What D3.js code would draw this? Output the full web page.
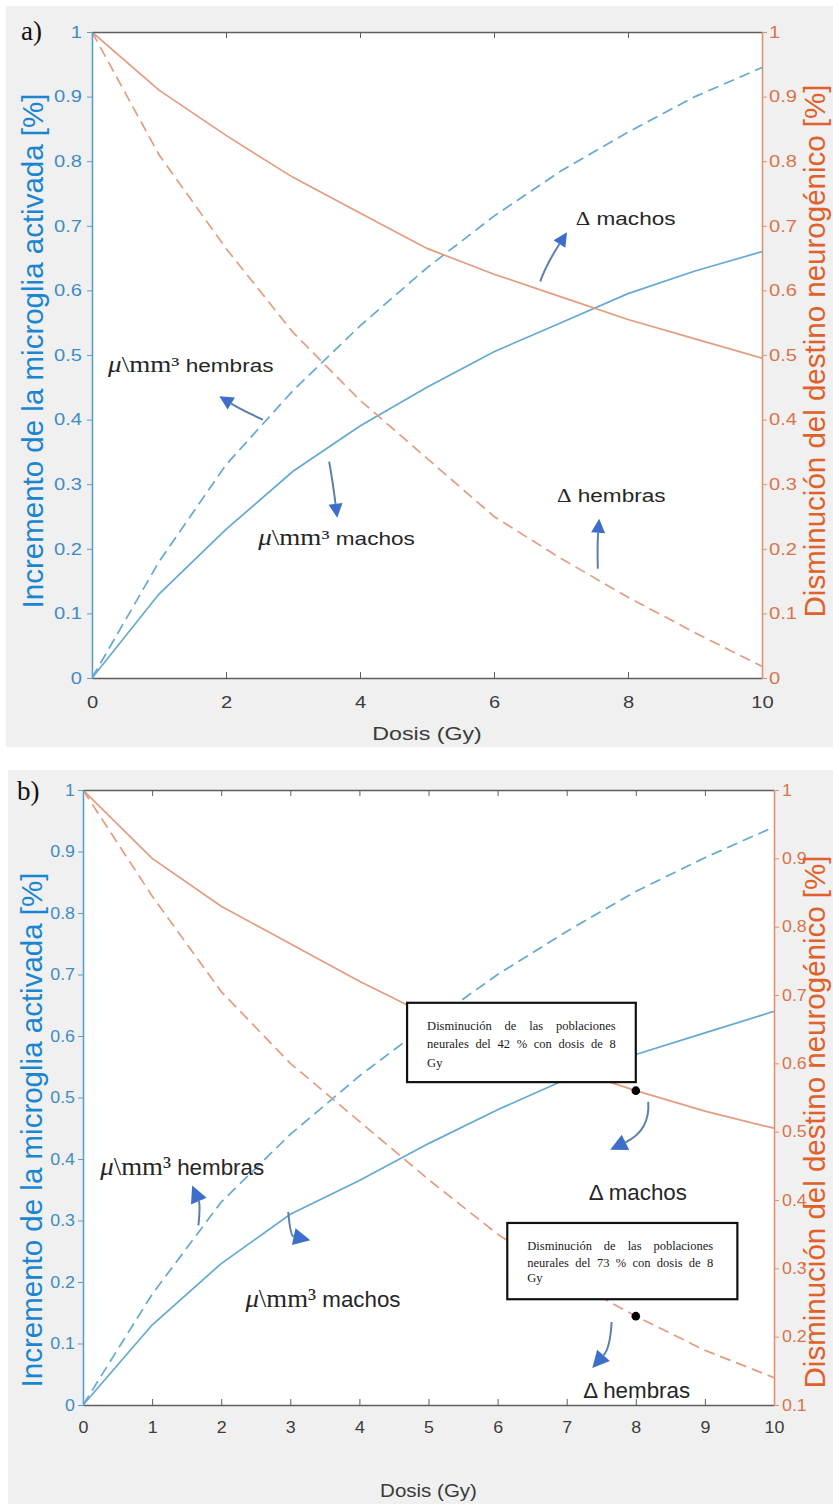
<!DOCTYPE html>
<html>
<head>
<meta charset="utf-8">
<script src="https://cdn.jsdelivr.net/npm/d3@7"></script>
<style>
  body { margin: 0; background: #fff; }
  svg { display: block; }
</style>
</head>
<body>
<script>
// ---- data ----
const dose = [0, 1, 2, 3, 4, 5, 6, 7, 8, 9, 10];

// panel a
const aMicroMachos  = [0, 0.13, 0.23, 0.32, 0.39, 0.45, 0.505, 0.55, 0.595, 0.63, 0.66];
const aMicroHembras = [0, 0.18, 0.33, 0.445, 0.545, 0.635, 0.715, 0.785, 0.845, 0.9, 0.945];
const aDeltaMachos  = [1, 0.91, 0.84, 0.775, 0.72, 0.665, 0.625, 0.59, 0.555, 0.525, 0.495];
const aDeltaHembras = [1, 0.81, 0.665, 0.535, 0.43, 0.34, 0.25, 0.185, 0.125, 0.07, 0.018];

// panel b
const bMicroMachos  = [0, 0.13, 0.23, 0.31, 0.365, 0.425, 0.48, 0.53, 0.57, 0.605, 0.64];
const bMicroHembras = [0, 0.18, 0.33, 0.44, 0.535, 0.62, 0.7, 0.77, 0.835, 0.89, 0.94];
const bDeltaMachos  = [1, 0.9, 0.83, 0.775, 0.72, 0.67, 0.63, 0.593, 0.56, 0.53, 0.505];
const bDeltaHembras = [1, 0.845, 0.705, 0.6, 0.515, 0.43, 0.35, 0.285, 0.23, 0.18, 0.14];

// ticks
const ticksXa = [0, 2, 4, 6, 8, 10];
const ticksXb = [0, 1, 2, 3, 4, 5, 6, 7, 8, 9, 10];
const ticksLeft = [0, 0.1, 0.2, 0.3, 0.4, 0.5, 0.6, 0.7, 0.8, 0.9, 1];
const ticksRightA = [0, 0.1, 0.2, 0.3, 0.4, 0.5, 0.6, 0.7, 0.8, 0.9, 1];
const ticksRightB = [0.1, 0.2, 0.3, 0.4, 0.5, 0.6, 0.7, 0.8, 0.9, 1];

const xLabel = "Dosis (Gy)";
const leftLabel = "Incremento de la microglia activada [%]";
const rightLabel = "Disminución del destino neurogénico [%]";

// annotations, in data units (x = Gy, y = left axis)
const aNotes = [
  { x: 7.22, y: 0.702, kind: "delta", t: " machos" },
  { x: 6.94, y: 0.273, kind: "delta", t: " hembras" },
  { x: 0.24, y: 0.473, kind: "mu", t: " hembras" },
  { x: 2.48, y: 0.206, kind: "mu", t: " machos" }
];
const aArrows = [
  [6.69, 0.614, 6.78, 0.640, 7.09, 0.690],
  [7.55, 0.169, 7.54, 0.205, 7.57, 0.2465],
  [2.55, 0.400, 2.25, 0.414, 1.90, 0.436],
  [3.54, 0.335, 3.60, 0.299, 3.66, 0.248]
];
const bNotes = [
  { x: 0.25, y: 0.374, kind: "mu", t: " hembras" },
  { x: 2.35, y: 0.159, kind: "mu", t: " machos" },
  { x: 7.32, y: 0.333, kind: "sans", t: "Δ machos" },
  { x: 7.24, y: 0.011, kind: "sans", t: "Δ hembras" }
];
const bArrows = [
  [1.67, 0.292, 1.70, 0.325, 1.58, 0.357],
  [2.97, 0.314, 3.00, 0.275, 3.29, 0.268],
  [8.18, 0.493, 8.21, 0.447, 7.63, 0.415],
  [7.65, 0.135, 7.63, 0.093, 7.37, 0.060]
];
const boxLines42 = ["Disminución de las poblaciones", "neurales del 42 % con dosis de 8", "Gy"];
const boxLines73 = ["Disminución de las poblaciones", "neurales del 73 % con dosis de 8", "Gy"];
const bBoxes = [
  { x0: 4.69, x1: 8.0, yTop: 0.654, yBot: 0.525, tx0: 4.98, tx1: 7.71, base: [0.61, 0.58, 0.55], lines: boxLines42 },
  { x0: 6.14, x1: 9.47, yTop: 0.296, yBot: 0.172, tx0: 6.43, tx1: 9.12, base: [0.252, 0.224, 0.2], lines: boxLines73 }
];
const markDose = 8;

// ---- style ----
const sans = "'Liberation Sans', Arial, Helvetica, sans-serif";
const serif = "'Liberation Serif', 'Times New Roman', serif";
const blueLine = "#63a9d2", orangeLine = "#e49c80";
const frameGray = "#5e5e5e";

const svg = d3.select("body").append("svg")
  .attr("width", 833)
  .attr("height", 1504);

svg.append("rect").attr("x", 6).attr("y", 6).attr("width", 827).attr("height", 741).attr("fill", "#f0f0f0");
svg.append("rect").attr("x", 8).attr("y", 770).attr("width", 825).attr("height", 734).attr("fill", "#f0f0f0");

function drawPanel(p) {
  const g = svg.append("g");
  const x = d3.scaleLinear().domain([0, 10]).range([p.left, p.right]);
  const yL = d3.scaleLinear().domain([0, 1]).range([p.bottom, p.top]);
  const yR = d3.scaleLinear().domain(p.rightDomain).range([p.bottom, p.top]);

  g.append("rect")
    .attr("x", p.left).attr("y", p.top)
    .attr("width", p.right - p.left).attr("height", p.bottom - p.top)
    .attr("fill", "#fff");

  g.append("clipPath").attr("id", "clip-" + p.id)
    .append("rect")
    .attr("x", p.left).attr("y", p.top)
    .attr("width", p.right - p.left).attr("height", p.bottom - p.top);

  const series = [
    { v: p.microMachos, y: yL, c: blueLine, dash: null },
    { v: p.microHembras, y: yL, c: blueLine, dash: "11,6" },
    { v: p.deltaMachos, y: yR, c: orangeLine, dash: null },
    { v: p.deltaHembras, y: yR, c: orangeLine, dash: "11,6" }
  ];
  const lines = g.append("g").attr("clip-path", "url(#clip-" + p.id + ")");
  series.forEach(function(s) {
    const line = d3.line()
      .x(function(d, i) { return x(dose[i]); })
      .y(function(d) { return s.y(d); });
    lines.append("path")
      .attr("d", line(s.v))
      .attr("fill", "none")
      .attr("stroke", s.c)
      .attr("stroke-width", 1.7)
      .attr("stroke-dasharray", s.dash);
  });

  // axes
  const bottom = g.append("g")
    .attr("transform", "translate(0," + p.bottom + ")")
    .call(d3.axisBottom(x).tickValues(p.xTicks).tickSize(-6).tickSizeOuter(0).tickFormat(d3.format("d")));
  bottom.select(".domain").attr("stroke", frameGray).attr("stroke-width", 1.6);
  bottom.selectAll(".tick line").attr("stroke", frameGray);
  bottom.selectAll(".tick text")
    .attr("y", p.xTickOff).attr("dy", null)
    .attr("transform", "scale(" + p.ts + ",1)")
    .attr("fill", "#3c3c3c")
    .style("font-family", sans).style("font-size", p.tickFont + "px");

  const top = g.append("g")
    .attr("transform", "translate(0," + p.top + ")")
    .call(d3.axisTop(x).tickValues(p.xTicks.slice(1, -1)).tickSize(-6).tickSizeOuter(0).tickFormat(""));
  top.select(".domain").attr("stroke", frameGray).attr("stroke-width", 1.6);
  top.selectAll(".tick line").attr("stroke", frameGray);

  const left = g.append("g")
    .attr("transform", "translate(" + p.left + ",0)")
    .call(d3.axisLeft(yL).tickValues(ticksLeft).tickSize(5).tickSizeOuter(0).tickFormat(d3.format("~g")));
  left.select(".domain").attr("stroke", "#5a9fcf").attr("stroke-width", 1.6);
  left.selectAll(".tick line").attr("stroke", "#5a9fcf");
  left.selectAll(".tick text")
    .attr("x", -p.yGap / p.ts)
    .attr("transform", "scale(" + p.ts + ",1)")
    .attr("fill", "#3f8cc4")
    .style("font-family", sans).style("font-size", p.tickFont + "px");

  const right = g.append("g")
    .attr("transform", "translate(" + p.right + ",0)")
    .call(d3.axisRight(yR).tickValues(p.rightTicks).tickSize(5).tickSizeOuter(0).tickFormat(d3.format("~g")));
  right.select(".domain").attr("stroke", "#e29274").attr("stroke-width", 1.6);
  right.selectAll(".tick line").attr("stroke", "#e29274");
  right.selectAll(".tick text")
    .attr("x", p.yGapR / p.ts)
    .attr("transform", "scale(" + p.ts + ",1)")
    .attr("fill", "#d9744c")
    .style("font-family", sans).style("font-size", p.tickFont + "px");

  // axis titles
  g.append("text")
    .attr("transform", "translate(" + ((p.left + p.right) / 2) + "," + p.xLabelY + ") scale(" + p.ts + ",1)")
    .attr("text-anchor", "middle")
    .attr("fill", "#3a3a3a")
    .style("font-family", sans).style("font-size", p.xLabelFont + "px")
    .text(xLabel);

  g.append("text")
    .attr("transform", "translate(" + p.leftLabelX + "," + p.leftLabelY + ") rotate(-90)")
    .attr("text-anchor", "middle")
    .attr("fill", "#1a86d0")
    .style("font-family", sans).style("font-size", "29.5px")
    .text(leftLabel);

  g.append("text")
    .attr("transform", "translate(" + p.rightLabelX + "," + p.rightLabelY + ") rotate(-90)")
    .attr("text-anchor", "middle")
    .attr("fill", "#e0612a")
    .style("font-family", sans).style("font-size", "29.5px")
    .text(rightLabel);

  g.append("text")
    .attr("x", p.tagX).attr("y", p.tagY)
    .attr("fill", "#111")
    .style("font-family", serif).style("font-size", "27px")
    .text(p.tag);

  // boxes with justified text, dots on the orange curves
  p.boxes.forEach(function(b) {
    g.append("rect")
      .attr("x", x(b.x0)).attr("y", yL(b.yTop))
      .attr("width", x(b.x1) - x(b.x0)).attr("height", yL(b.yBot) - yL(b.yTop))
      .attr("fill", "#fff").attr("stroke", "#111").attr("stroke-width", 2.2);
    b.lines.forEach(function(ln, li) {
      const words = ln.split(" ");
      const x0 = x(b.tx0), x1 = x(b.tx1);
      const texts = words.map(function(w) {
        return g.append("text")
          .attr("y", yL(b.base[li]))
          .attr("fill", "#1a1a1a")
          .style("font-family", serif).style("font-size", "12.5px")
          .text(w);
      });
      const widths = texts.map(function(t) { return t.node().getComputedTextLength(); });
      const last = li === b.lines.length - 1;
      const gap = (words.length > 1 && !last) ? (x1 - x0 - d3.sum(widths)) / (words.length - 1) : 3.2;
      let cx = x0;
      texts.forEach(function(t, i) { t.attr("x", cx); cx += widths[i] + gap; });
    });
  });

  p.dots.forEach(function(dv) {
    const i = dose.indexOf(markDose);
    g.append("circle")
      .attr("cx", x(markDose)).attr("cy", yR(dv[i]))
      .attr("r", 4.3).attr("fill", "#000");
  });

  // curved arrows
  p.arrows.forEach(function(a) {
    const sx = x(a[0]), sy = yL(a[1]), cx = x(a[2]), cy = yL(a[3]), tx = x(a[4]), ty = yL(a[5]);
    const dx = tx - cx, dy = ty - cy, len = Math.hypot(dx, dy);
    const ux = dx / len, uy = dy / len;
    const bx = tx - ux * p.headLen, by = ty - uy * p.headLen;
    const path = d3.path();
    path.moveTo(sx, sy);
    path.quadraticCurveTo(cx, cy, bx, by);
    g.append("path").attr("d", path.toString())
      .attr("fill", "none").attr("stroke", "#5c7fab").attr("stroke-width", 2);
    const hw = p.headLen * 0.5;
    const head = d3.path();
    head.moveTo(tx, ty);
    head.lineTo(bx - uy * hw, by + ux * hw);
    head.lineTo(bx + uy * hw, by - ux * hw);
    head.closePath();
    g.append("path").attr("d", head.toString()).attr("fill", "#3d6ecb");
  });

  // annotation labels
  p.notes.forEach(function(n) {
    const t = g.append("text")
      .attr("transform", "translate(" + x(n.x) + "," + yL(n.y) + ") scale(" + p.noteScale + ",1)")
      .attr("fill", "#262626")
      .style("font-family", sans).style("font-size", p.noteFont + "px");
    if (n.kind === "mu") {
      t.append("tspan").style("font-family", serif).style("font-style", "italic")
        .style("font-size", (p.noteFont * 1.2) + "px").text("μ");
      t.append("tspan").style("font-family", serif)
        .style("font-size", (p.noteFont * 1.2) + "px").text("\\mm³");
    } else if (n.kind === "delta") {
      t.append("tspan").style("font-family", serif).text("Δ");
    }
    t.append("tspan").text(n.t);
  });
}

drawPanel({
  id: "a", tag: "a)", tagX: 21, tagY: 40,
  left: 92, right: 762, top: 32, bottom: 678,
  xTicks: ticksXa, rightDomain: [0, 1], rightTicks: ticksRightA,
  microMachos: aMicroMachos, microHembras: aMicroHembras,
  deltaMachos: aDeltaMachos, deltaHembras: aDeltaHembras,
  ts: 1.22, tickFont: 16.5, xTickOff: 30, yGap: 10, yGapR: 7,
  xLabelY: 740, xLabelFont: 19,
  leftLabelX: 43, leftLabelY: 351, rightLabelX: 825, rightLabelY: 351,
  notes: aNotes, noteFont: 18.5, noteScale: 1.22,
  arrows: aArrows, headLen: 14,
  boxes: [], dots: []
});

drawPanel({
  id: "b", tag: "b)", tagX: 17, tagY: 800,
  left: 83, right: 774, top: 790, bottom: 1405,
  xTicks: ticksXb, rightDomain: [0.1, 1], rightTicks: ticksRightB,
  microMachos: bMicroMachos, microHembras: bMicroHembras,
  deltaMachos: bDeltaMachos, deltaHembras: bDeltaHembras,
  ts: 1.08, tickFont: 16.5, xTickOff: 28, yGap: 8, yGapR: 8,
  xLabelY: 1497, xLabelFont: 19,
  leftLabelX: 42, leftLabelY: 1130, rightLabelX: 825, rightLabelY: 1122,
  notes: bNotes, noteFont: 21.5, noteScale: 1.04,
  arrows: bArrows, headLen: 17,
  boxes: bBoxes, dots: [bDeltaMachos, bDeltaHembras]
});
</script>
</body>
</html>
